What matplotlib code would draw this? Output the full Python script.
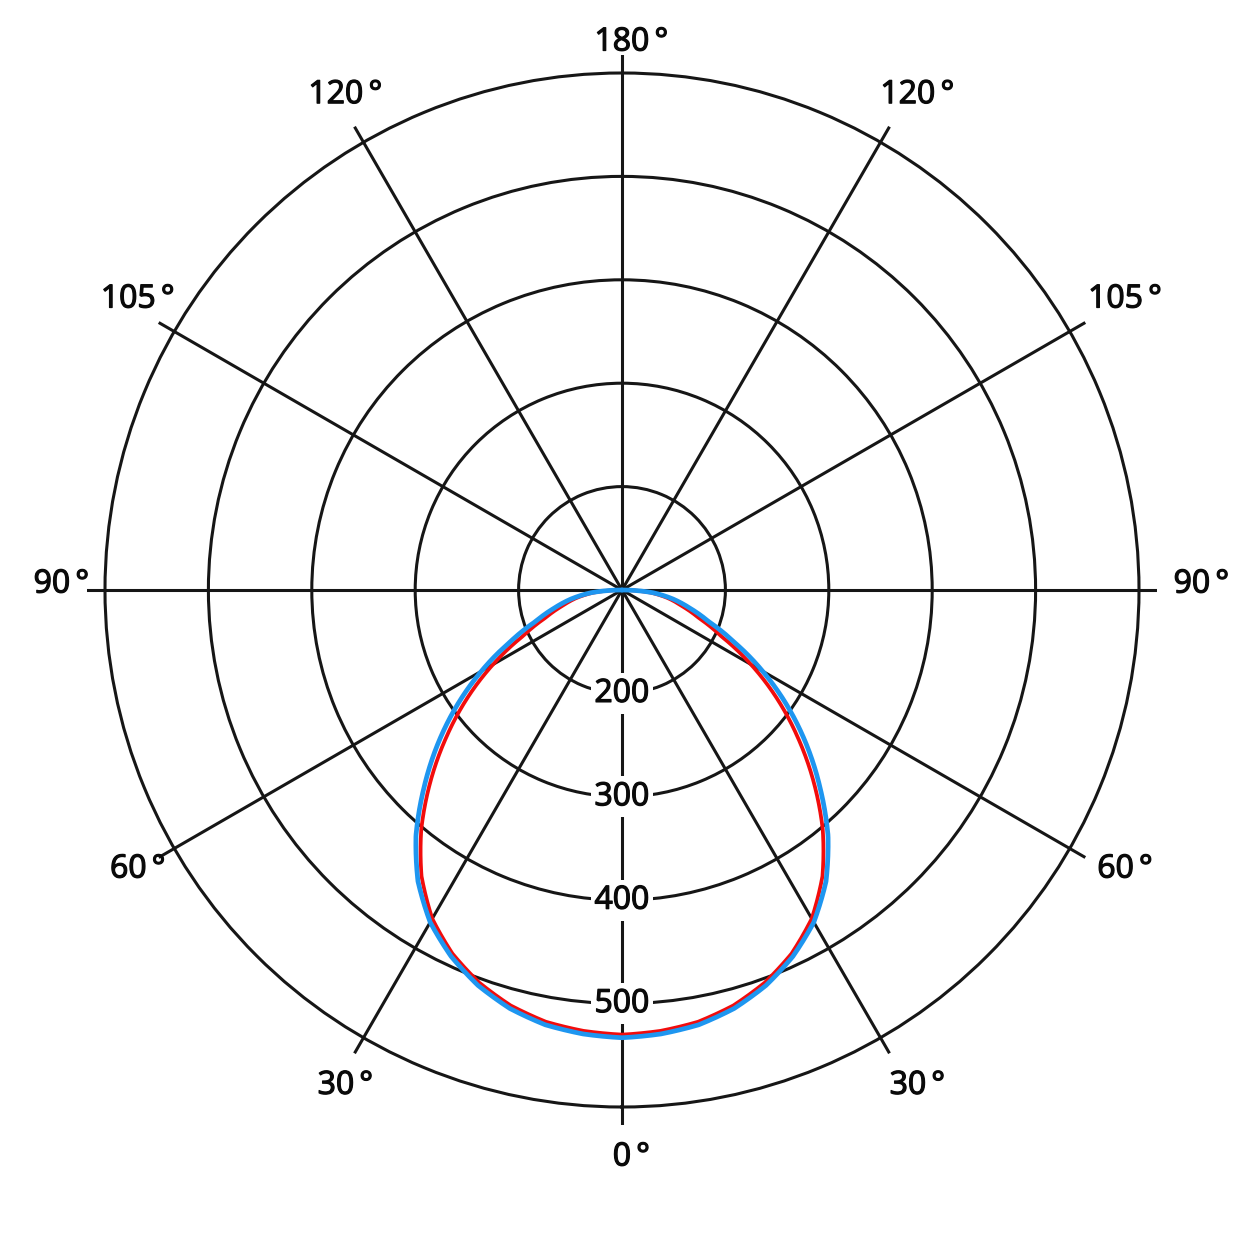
import numpy as np
import matplotlib
matplotlib.use('Agg')
import matplotlib.pyplot as plt
import matplotlib.patheffects as pe
from matplotlib.transforms import IdentityTransform
from matplotlib.path import Path
from matplotlib.patches import PathPatch

# ---------------- data ----------------
# angle from nadir (deg), values in the chart's own radial units (centre = 100)
angles_deg = [0, 5, 10, 15, 20, 25, 30, 35, 40, 45, 50, 55, 60, 65, 70, 75, 80, 85, 90]
blue_vals = [533, 531, 527, 519, 507, 491, 471, 444, 410, 371, 333, 295, 257, 220, 189, 168, 150, 130, 100]
red_vals = [530, 528, 524, 516, 504, 488, 467, 438, 402, 362, 322, 283, 244, 206, 179, 160, 145, 127, 100]

ring_values = [200, 300, 400, 500, 600]
ring_labels = ['200', '300', '400', '500', '']

spoke_angles = [0, 30, 60, 90, 120, 150, 180, 210, 240, 270, 300, 330]
spoke_labels = ['0', '30', '60', '90', '105', '120', '180', '120', '105', '90', '60', '30']

# ---------------- figure / axes ----------------
W = H = 1254
DPI = 100
fig = plt.figure(figsize=(W / DPI, H / DPI), dpi=DPI, facecolor='white')

cx, cy = 622, 590          # centre in pixels (from top)
R_px = 535                  # axes radius in pixels
ax = fig.add_axes([(cx - R_px) / W, (H - cy - R_px) / H, 2 * R_px / W, 2 * R_px / H],
                  projection='polar')
ax.set_facecolor('white')
ax.set_theta_zero_location('S')
ax.set_theta_direction(1)

RMIN = 100
px_per_unit = 517.0 / 500.0
RMAX = RMIN + R_px / px_per_unit
ax.set_ylim(RMIN, RMAX)

ax.set_rgrids(ring_values, labels=[''] * len(ring_values))
ax.set_thetagrids(spoke_angles, labels=[''] * len(spoke_angles))
ax.grid(True, color='#161616', linewidth=2.2)
ax.spines['polar'].set_visible(False)
ax.tick_params(length=0)

# ---------------- curves ----------------
a = np.array(angles_deg, dtype=float)
th = np.deg2rad(np.concatenate([-a[::-1], a[1:]]))


def curve(vals, color, lw, z):
    v = np.asarray(vals, dtype=float)
    r = np.concatenate([v[::-1], v[1:]])
    p = Path(np.column_stack([th, r]), _interpolation_steps=40)
    ax.add_patch(PathPatch(p, fill=False, edgecolor=color, linewidth=lw,
                           joinstyle='round', capstyle='round', zorder=z,
                           transform=ax.transData))


curve(red_vals, '#F20C0C', 2.7, 4)
curve(blue_vals, '#1E96F0', 3.4, 5)

# ---------------- ring labels ----------------
FONT = ['Open Sans', 'DejaVu Sans']
FS = 23
TXT = '#0a0a0a'
EFF = [pe.withStroke(linewidth=0.9, foreground=TXT)]
for rv, lab in zip(ring_values, ring_labels):
    if lab:
        ax.text(0, rv, lab, ha='center', va='center', fontsize=FS, family=FONT,
                color=TXT, zorder=3.5, path_effects=EFF,
                bbox=dict(boxstyle='square,pad=0.12', fc='white', ec='none'))

# ---------------- spoke labels ----------------
renderer = fig.canvas.get_renderer()
for ang, lab in zip(spoke_angles, spoke_labels):
    if ang == 180:
        rpx, dy = 548, 0
    elif ang == 0:
        rpx, dy = 567, 0
    elif ang in (30, 330, 150, 210):
        rpx, dy = 572, 0
    else:
        rpx, dy = 570, 6
    r_lab = RMIN + rpx / px_per_unit
    t = ax.annotate(lab, xy=(np.deg2rad(ang), r_lab), xytext=(0, dy),
                    textcoords='offset pixels', ha='center', va='center',
                    fontsize=FS, family=FONT, color=TXT, path_effects=EFF,
                    annotation_clip=False)
    bb = t.get_window_extent(renderer)
    fig.text(bb.x1 + 5, (bb.y0 + bb.y1) / 2, '°', transform=IdentityTransform(),
             ha='left', va='center', fontsize=FS, family=FONT, color=TXT,
             path_effects=EFF)

fig.savefig('out.png', dpi=DPI, facecolor='white')
